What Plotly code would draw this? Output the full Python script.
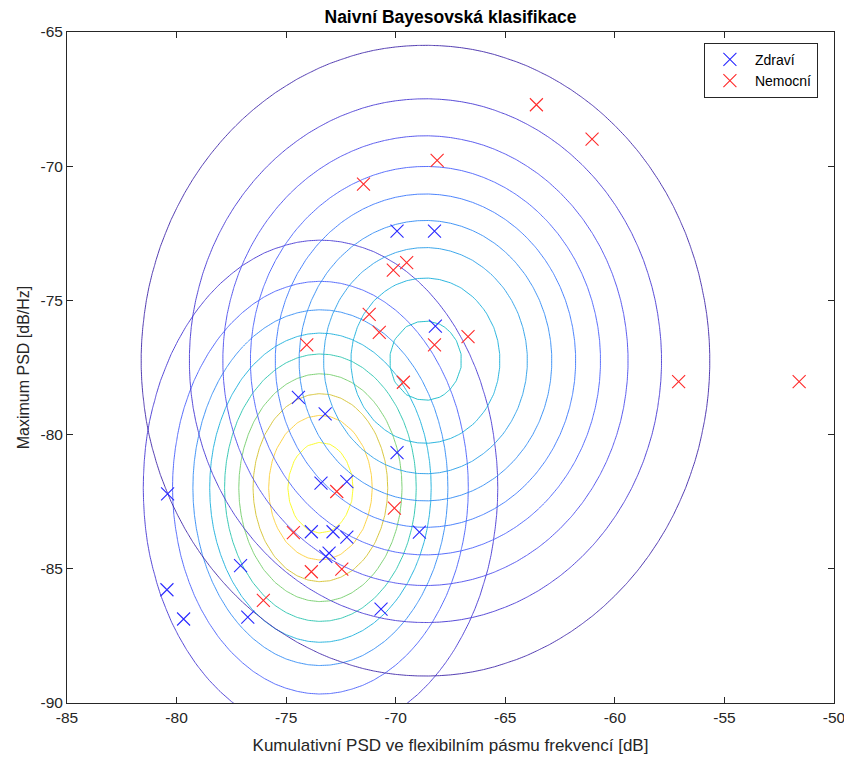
import numpy as np
import plotly.graph_objects as go
from plotly.colors import sample_colorscale

# ---- data ----
zdravi_x = [-69.94, -68.23, -68.19, -74.44, -73.22, -69.94, -80.41, -73.41, -72.23, -73.85,
            -72.86, -72.23, -68.92, -73.19, -73.04, -77.08, -80.44, -79.68, -76.75, -70.67]
zdravi_y = [-72.42, -72.42, -75.96, -78.61, -79.23, -80.67, -82.21, -81.81, -81.75, -83.62,
            -83.62, -83.82, -83.63, -84.54, -84.42, -84.88, -85.78, -86.87, -86.80, -86.50]

nemocni_x = [-63.58, -61.04, -68.11, -71.47, -70.11, -69.50, -71.21, -70.75, -74.06, -68.23,
             -66.70, -69.65, -57.09, -51.59, -72.69, -70.06, -74.67, -73.85, -72.46, -76.04]
nemocni_y = [-67.71, -68.99, -69.78, -70.67, -73.87, -73.59, -75.52, -76.19, -76.66, -76.66,
             -76.35, -78.05, -78.03, -78.03, -82.12, -82.74, -83.65, -85.11, -85.01, -86.18]

# contour levels of each class density
levels_zdravi = [0.001, 0.002, 0.003, 0.004, 0.005, 0.006, 0.007, 0.008, 0.009]
levels_nemocni = [0.0005, 0.0010, 0.0015, 0.0020, 0.0025, 0.0030, 0.0035, 0.0040, 0.0045]

x_ticks = [-85, -80, -75, -70, -65, -60, -55, -50]
y_ticks = [-90, -85, -80, -75, -70, -65]

# MATLAB parula anchors (index of 64-entry map, rgb)
parula_idx = [1, 5, 9, 13, 17, 21, 25, 29, 33, 37, 41, 45, 49, 53, 57, 61, 64]
parula_rgb = [(0.2422, 0.1504, 0.6603), (0.2706, 0.2147, 0.8364), (0.2813, 0.3006, 0.9414),
              (0.2699, 0.3892, 0.9906), (0.1963, 0.4847, 0.9892), (0.1687, 0.5703, 0.9359),
              (0.1248, 0.6459, 0.8883), (0.0297, 0.7082, 0.8163), (0.0964, 0.7500, 0.7120),
              (0.2161, 0.7843, 0.5923), (0.3909, 0.8029, 0.4354), (0.6174, 0.7876, 0.2612),
              (0.8203, 0.7498, 0.1535), (0.9728, 0.7298, 0.2394), (0.9892, 0.8136, 0.1885),
              (0.9597, 0.9135, 0.1423), (0.9769, 0.9839, 0.0805)]
colorscale = [[(i - 1) / 63, "rgb(%d,%d,%d)" % tuple(round(255 * v) for v in c)]
              for i, c in zip(parula_idx, parula_rgb)]

# ---- naive Bayes (Gaussian) fit per class ----
def fit(xs, ys):
    xs, ys = np.asarray(xs), np.asarray(ys)
    return xs.mean(), ys.mean(), xs.std(ddof=1), ys.std(ddof=1)

gx = np.arange(-86.0, -48.9, 0.5)
gy = np.arange(-91.0, -63.9, 0.5)
GX, GY = np.meshgrid(gx, gy)

def pdf(params):
    mx, my, sx, sy = params
    return (np.exp(-0.5 * ((GX - mx) / sx) ** 2 - 0.5 * ((GY - my) / sy) ** 2)
            / (2 * np.pi * sx * sy))

Z1 = pdf(fit(zdravi_x, zdravi_y))
Z2 = pdf(fit(nemocni_x, nemocni_y))
all_levels = levels_zdravi + levels_nemocni
cmin, cmax = min(all_levels), max(all_levels)

fig = go.Figure()
for Z, levels in ((Z1, levels_zdravi), (Z2, levels_nemocni)):
    for lev in levels:
        t = min(max((lev - cmin) / (cmax - cmin), 0.0), 1.0)
        col = sample_colorscale(colorscale, [t])[0]
        fig.add_trace(go.Contour(
            x=gx, y=gy, z=Z, autocontour=False,
            contours=dict(coloring="lines", showlabels=False,
                          start=lev, end=lev, size=1),
            line=dict(width=0.9, smoothing=0),
            colorscale=[[0, col], [1, col]],
            showscale=False, showlegend=False, hoverinfo="skip"))

fig.add_trace(go.Scatter(
    x=zdravi_x, y=zdravi_y, mode="markers", name="Zdraví",
    marker=dict(symbol="x-thin", size=13, color="#0000ff",
                line=dict(width=1.1, color="#2a2aff"))))
fig.add_trace(go.Scatter(
    x=nemocni_x, y=nemocni_y, mode="markers", name="Nemocní",
    marker=dict(symbol="x-thin", size=13, color="#ff0000",
                line=dict(width=1.1, color="#ff2a2a"))))

font_family = "Liberation Sans, Arial, sans-serif"
axis_common = dict(showline=True, linecolor="#262626", linewidth=1, mirror="ticks",
                   ticks="inside", ticklen=6, tickcolor="#262626", showgrid=False,
                   zeroline=False, ticklabeloverflow="allow", automargin=False,
                   tickfont=dict(size=15.5, color="#262626", family=font_family))

fig.update_layout(
    width=844, height=758,
    margin=dict(l=67, r=10, t=32, b=55, autoexpand=False),
    paper_bgcolor="white", plot_bgcolor="white",
    font=dict(family=font_family, color="#262626"),
    title=dict(text="<b>Naivní Bayesovská klasifikace</b>", x=0.5, xref="paper",
               y=1 - 17 / 758, yref="container", yanchor="middle",
               font=dict(size=17.5, color="#000000", family=font_family)),
    xaxis=dict(range=[-85, -50], tickvals=x_ticks, ticktext=[str(v) for v in x_ticks],
               title=dict(text="Kumulativní PSD ve flexibilním pásmu frekvencí [dB]",
                          font=dict(size=17, color="#262626"), standoff=14),
               **axis_common),
    yaxis=dict(range=[-90, -65], tickvals=y_ticks, ticktext=[str(v) for v in y_ticks],
               title=dict(text="Maximum PSD [dB/Hz]",
                          font=dict(size=16, color="#262626"), standoff=6),
               **axis_common),
    legend=dict(x=0.979, y=0.984, xanchor="right", yanchor="top",
                bgcolor="white", bordercolor="#262626", borderwidth=1,
                tracegroupgap=0, itemwidth=40,
                font=dict(size=14, color="#000000", family=font_family)),
)

fig.write_html("out.html")
